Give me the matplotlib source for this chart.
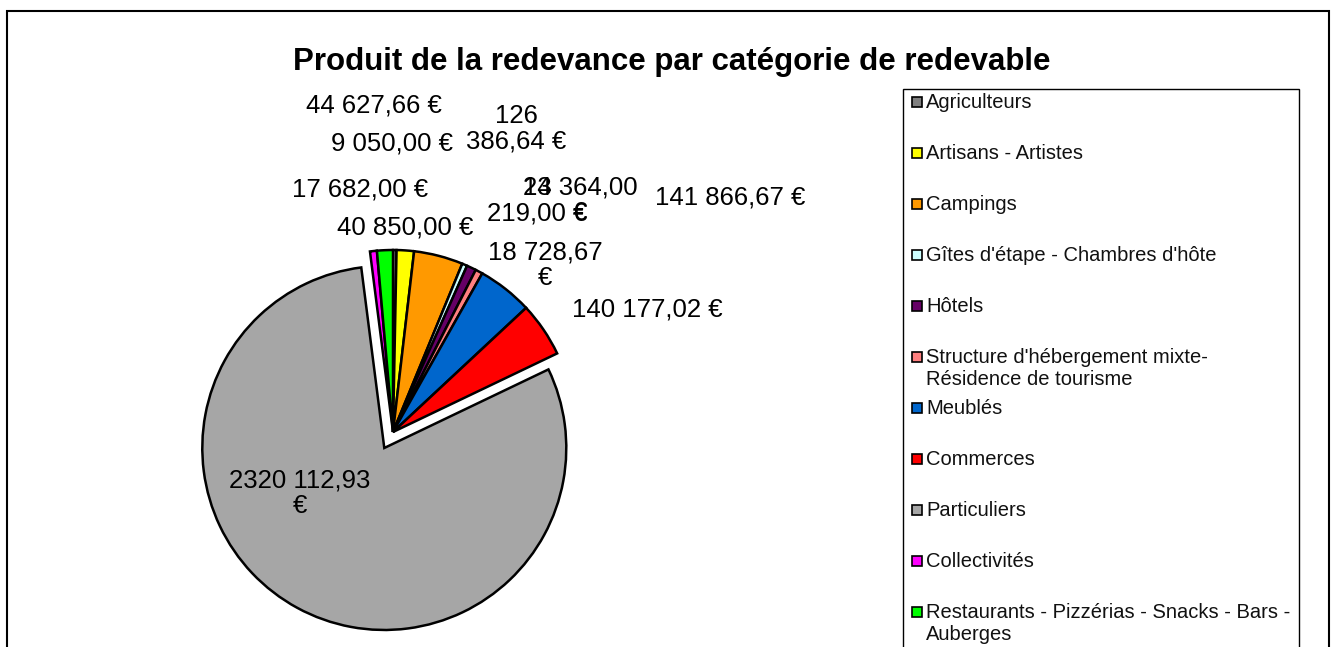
import matplotlib
matplotlib.use("Agg")
import matplotlib.pyplot as plt
from matplotlib.patches import Rectangle

# ---------------- data ----------------
categories = [
    "Agriculteurs",
    "Artisans - Artistes",
    "Campings",
    "Gîtes d'étape - Chambres d'hôte",
    "Hôtels",
    "Structure d'hébergement mixte-\nRésidence de tourisme",
    "Meublés",
    "Commerces",
    "Particuliers",
    "Collectivités",
    "Restaurants - Pizzérias - Snacks - Bars -\nAuberges",
]
values = [9050.00, 44627.66, 126386.64, 13219.00, 24364.00, 18728.67,
          141866.67, 140177.02, 2320112.93, 17682.00, 40850.00]
colors = ["#808080", "#FFFF00", "#FF9900", "#CCFFFF", "#660066", "#FF8080",
          "#0066CC", "#FF0000", "#A6A6A6", "#FF00FF", "#00FF00"]
title = "Produit de la redevance par catégorie de redevable"

# ---------------- layout ----------------
W, H = 1336, 647
RADIUS = 182
# wrap style of each data label: none / first group on own line / euro on own line / joined
wrap_style = ["none", "none", "group", "group", "euro", "euro",
              "none", "none", "joined", "none", "none"]
# label centres in pixels (x from left, y from top)
label_px = [(392, 143), (374, 105), (516, 129), (537, 201), (580, 200), (545, 265),
            (730, 198), (647, 310), (300, 493), (360, 190), (405, 228)]
explode_frac = [0, 0, 0, 0, 0, 0, 0, 0, 0.1, 0, 0]

def fr(v):
    return f"{v:,.2f}".replace(",", " ").replace(".", ",")

def label_text(v, style):
    s = fr(v)
    if style == "group":
        a, b = s.split(" ", 1)
        return a + "\n" + b + " €"
    if style == "euro":
        return s + "\n€"
    if style == "joined":
        return s.replace(" ", "", 1) + "\n€"
    return s + " €"

def Y(py):
    return H - py

plt.rcParams['font.family'] = ['Liberation Sans', 'DejaVu Sans']

fig = plt.figure(figsize=(W / 100, H / 100), dpi=100)
fig.patch.set_facecolor("white")
ax = fig.add_axes([0, 0, 1, 1])

wedges, _ = ax.pie(values, colors=colors, startangle=90, counterclock=False,
                   explode=[e * RADIUS for e in explode_frac],
                   center=(393, Y(432)), radius=RADIUS,
                   wedgeprops=dict(edgecolor="black", linewidth=1.8))
ax.set_xlim(0, W)
ax.set_ylim(0, H)
ax.set_aspect("equal")
ax.axis("off")

# data labels
for v, st, (px, py) in zip(values, wrap_style, label_px):
    ax.text(px, Y(py), label_text(v, st), fontsize=18.5, ha="center", va="center",
            color="black", linespacing=1.1)

# title
ax.text(672, Y(62), title, fontsize=22.5, fontweight="bold", ha="center", va="center")

# chart border (bottom cut off)
ax.add_patch(Rectangle((7, -20), 1322, Y(11) + 20, fill=False, edgecolor="black",
                       linewidth=1.5, clip_on=False))

# legend box (extends past the bottom edge)
ax.add_patch(Rectangle((903, -40), 1299 - 903, Y(89) + 40, facecolor="white",
                       edgecolor="black", linewidth=1.0, clip_on=False))
slot = 51.0
for i, (name, c) in enumerate(zip(categories, colors)):
    yc = 102.4 + slot * i
    ax.add_patch(Rectangle((912, Y(yc) - 5), 10, 10, facecolor=c, edgecolor="black",
                           linewidth=1.2))
    for k, line in enumerate(name.split("\n")):
        ax.text(926, Y(yc + 21.7 * k), line, fontsize=14.5, ha="left",
                va="center", color="#111111")

fig.savefig("out.png", dpi=100, facecolor="white")
